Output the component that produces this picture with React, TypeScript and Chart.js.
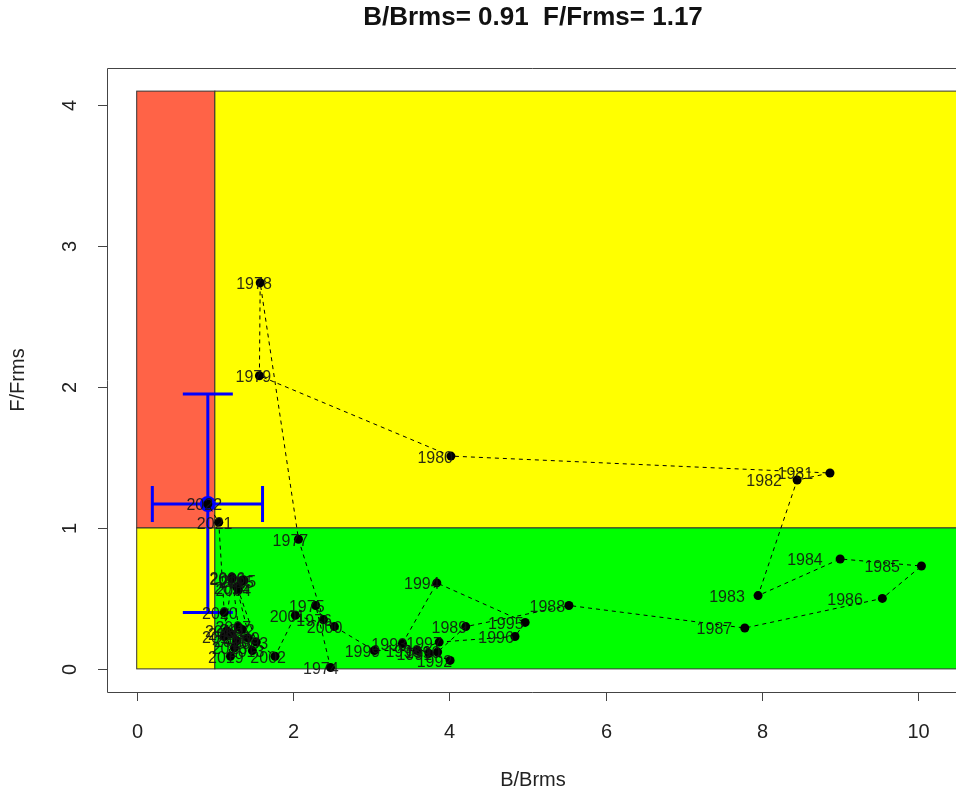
import React, { useEffect, useRef } from "react";
import { Chart, registerables } from "chart.js";

Chart.register(...registerables);

const years = [
  1974, 1975, 1976, 1977, 1978, 1979, 1980, 1981, 1982, 1983, 1984, 1985, 1986,
  1987, 1988, 1989, 1990, 1991, 1992, 1993, 1994, 1995, 1996, 1997, 1998, 1999,
  2000, 2001, 2002, 2003, 2004, 2005, 2006, 2007, 2008, 2009, 2010, 2011, 2012,
  2013, 2014, 2015, 2016, 2017, 2018, 2019, 2020, 2021, 2022,
];
const bRatio = [
  2.48, 2.29, 2.39, 2.07, 1.58, 1.57, 4.02, 8.87, 8.45, 7.95, 9.0, 10.04, 9.54,
  7.78, 5.53, 4.21, 3.85, 3.74, 4.01, 3.4, 3.84, 4.97, 4.84, 3.87, 3.59, 3.04,
  2.53, 2.03, 1.77, 1.53, 1.3, 1.37, 1.22, 1.3, 1.2, 1.42, 1.28, 1.15, 1.35,
  1.48, 1.28, 1.34, 1.22, 1.12, 1.25, 1.2, 1.12, 1.05, 0.91,
];
const fRatio = [
  0.01, 0.45, 0.35, 0.92, 2.74, 2.08, 1.51, 1.39, 1.34, 0.52, 0.78, 0.73, 0.5,
  0.29, 0.45, 0.3, 0.12, 0.11, 0.06, 0.18, 0.61, 0.33, 0.23, 0.19, 0.13, 0.13,
  0.3, 0.38, 0.09, 0.19, 0.56, 0.63, 0.65, 0.3, 0.25, 0.22, 0.2, 0.27, 0.28,
  0.13, 0.58, 0.62, 0.64, 0.23, 0.15, 0.09, 0.4, 1.04, 1.17,
];
const currentB = 0.91;
const currentF = 1.17;
const bInterval = [0.2, 1.61];
const fInterval = [0.4, 1.95];
const xTicks = [0, 2, 4, 6, 8, 10];
const yTicks = [0, 1, 2, 3, 4];
const fMaxZone = 4.1;
const titleText = "B/Brms= 0.91  F/Frms= 1.17";
const xTitle = "B/Brms";
const yTitle = "F/Frms";

const W = 956;
const H = 794;
const FONT = "'Liberation Sans', Arial, sans-serif";

const kobePlugin = {
  id: "kobe",
  beforeDatasetsDraw(chart: any) {
    const { ctx, chartArea, scales } = chart;
    const xs = scales.x;
    const ys = scales.y;
    const px = (v: number) => xs.getPixelForValue(v);
    const py = (v: number) => ys.getPixelForValue(v);
    const farRight = px(12);
    ctx.save();
    const rect = (x0: number, y0: number, x1: number, y1: number, col: string) => {
      const l = px(x0), r = x1 > 11 ? farRight : px(x1);
      const t = py(y1), b = py(y0);
      ctx.fillStyle = col;
      ctx.fillRect(l, t, r - l, b - t);
      ctx.strokeStyle = "#333";
      ctx.lineWidth = 1;
      ctx.strokeRect(l, t, r - l, b - t);
    };
    rect(0, 1, 1, fMaxZone, "#FF6347");
    rect(0, 0, 1, 1, "#FFFF00");
    rect(1, 1, 12, fMaxZone, "#FFFF00");
    rect(1, 0, 12, 1, "#00FF00");

    // box (right side lies off canvas)
    ctx.strokeStyle = "#444";
    ctx.lineWidth = 1;
    ctx.beginPath();
    ctx.moveTo(W + 20, chartArea.top + 0.5);
    ctx.lineTo(chartArea.left + 0.5, chartArea.top + 0.5);
    ctx.lineTo(chartArea.left + 0.5, chartArea.bottom + 0.5);
    ctx.lineTo(W + 20, chartArea.bottom + 0.5);
    ctx.stroke();

    // ticks
    ctx.fillStyle = "#222";
    ctx.font = `20px ${FONT}`;
    ctx.textAlign = "center";
    ctx.textBaseline = "middle";
    xTicks.forEach((t) => {
      const x = Math.round(px(t)) + 0.5;
      ctx.beginPath();
      ctx.moveTo(x, chartArea.bottom);
      ctx.lineTo(x, chartArea.bottom + 9);
      ctx.stroke();
      ctx.fillText(String(t), x, chartArea.bottom + 40);
    });
    yTicks.forEach((t) => {
      const y = Math.round(py(t)) + 0.5;
      ctx.beginPath();
      ctx.moveTo(chartArea.left, y);
      ctx.lineTo(chartArea.left - 9, y);
      ctx.stroke();
      ctx.save();
      ctx.translate(chartArea.left - 37, y);
      ctx.rotate(-Math.PI / 2);
      ctx.fillText(String(t), 0, 0);
      ctx.restore();
    });
    // axis titles
    ctx.fillText(xTitle, 533, 780);
    ctx.save();
    ctx.translate(18, 380);
    ctx.rotate(-Math.PI / 2);
    ctx.fillText(yTitle, 0, 0);
    ctx.restore();
    // main title
    ctx.font = `bold 26px ${FONT}`;
    ctx.fillStyle = "#111";
    ctx.fillText(titleText, 533, 18);
    ctx.restore();
  },
  beforeDatasetDraw(chart: any, args: any) {
    if (args.index !== 1) return;
    const { ctx, scales } = chart;
    const xs = scales.x;
    const ys = scales.y;
    const cx = xs.getPixelForValue(currentB);
    const cy = ys.getPixelForValue(currentF);
    const xl = xs.getPixelForValue(bInterval[0]);
    const xr = xs.getPixelForValue(bInterval[1]);
    const yl = ys.getPixelForValue(fInterval[0]);
    const yh = ys.getPixelForValue(fInterval[1]);
    ctx.save();
    ctx.strokeStyle = "#0000FF";
    ctx.lineWidth = 3;
    ctx.beginPath();
    ctx.moveTo(xl, cy);
    ctx.lineTo(xr, cy);
    ctx.moveTo(xl, cy - 18);
    ctx.lineTo(xl, cy + 18);
    ctx.moveTo(xr, cy - 18);
    ctx.lineTo(xr, cy + 18);
    ctx.moveTo(cx, yl);
    ctx.lineTo(cx, yh);
    ctx.moveTo(cx - 25, yl);
    ctx.lineTo(cx + 25, yl);
    ctx.moveTo(cx - 25, yh);
    ctx.lineTo(cx + 25, yh);
    ctx.stroke();
    ctx.restore();
  },
  afterDatasetsDraw(chart: any) {
    const { ctx, scales } = chart;
    const xs = scales.x;
    const ys = scales.y;
    ctx.save();
    ctx.font = `16px ${FONT}`;
    ctx.fillStyle = "rgba(20,20,20,0.9)";
    ctx.textAlign = "center";
    ctx.textBaseline = "middle";
    years.forEach((yr, i) => {
      const x = xs.getPixelForValue(bRatio[i] * 0.95);
      const y = ys.getPixelForValue(fRatio[i]);
      ctx.fillText(String(yr), x, y + 2);
    });
    ctx.restore();
  },
};

export default function App() {
  const ref = useRef<HTMLCanvasElement | null>(null);
  useEffect(() => {
    if (!ref.current) return;
    const chart = new Chart(ref.current, {
      type: "scatter",
      data: {
        datasets: [
          {
            type: "line",
            data: years.map((_, i) => ({ x: bRatio[i], y: fRatio[i] })),
            borderColor: "#000",
            borderWidth: 1,
            borderDash: [4, 4],
            showLine: true,
            tension: 0,
            pointRadius: 4.5,
            pointBackgroundColor: "#000",
            pointBorderWidth: 0,
            fill: false,
          } as any,
          {
            data: [{ x: currentB, y: currentF }],
            pointRadius: 8,
            pointBackgroundColor: "#0000FF",
            pointBorderWidth: 0,
            showLine: false,
          },
        ],
      },
      options: {
        animation: false,
        responsive: false,
        devicePixelRatio: 1,
        layout: { padding: { top: 68, right: 0, left: 0, bottom: 0 } },
        plugins: {
          legend: { display: false },
          tooltip: { enabled: false },
          title: { display: false },
        },
        scales: {
          x: {
            type: "linear",
            min: -0.38,
            max: 10.38,
            grid: { display: false },
            border: { display: false },
            ticks: { display: false },
            afterFit: (s: any) => {
              s.height = H - 692;
            },
          },
          y: {
            type: "linear",
            min: -0.164,
            max: 4.264,
            grid: { display: false },
            border: { display: false },
            ticks: { display: false },
            afterFit: (s: any) => {
              s.width = 107;
            },
          },
        },
      },
      plugins: [kobePlugin],
    });
    return () => chart.destroy();
  }, []);
  return (
    <div style={{ position: "absolute", left: 0, top: 0, width: W, height: H, background: "#fff" }}>
      <canvas ref={ref} width={W} height={H} style={{ width: W, height: H, display: "block" }} />
    </div>
  );
}
